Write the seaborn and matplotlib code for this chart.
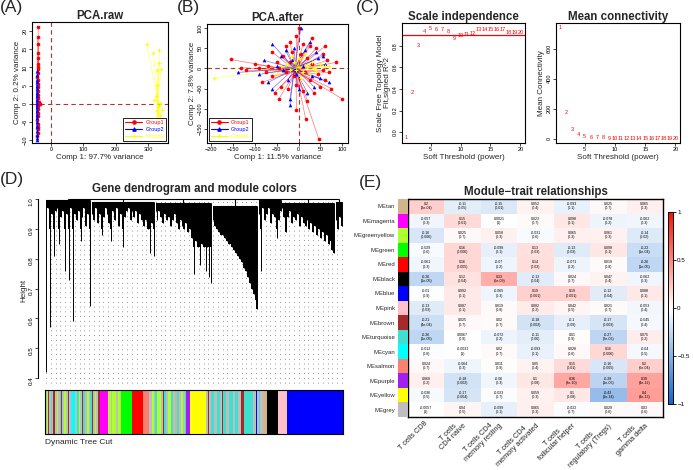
import numpy as np
import pandas as pd
import matplotlib
matplotlib.use("Agg")
import matplotlib.pyplot as plt
import seaborn as sns
from matplotlib.colors import LinearSegmentedColormap
from matplotlib.lines import Line2D

sns.set_theme(style="white")
plt.rcParams["font.family"] = ["Liberation Sans", "DejaVu Sans"]

# ---------------- data ----------------
# (A) PCA before batch correction
raw_g1_x = [-40, -41, -40, -40, -41, -40, -39, -41, -40, -42, -39, -40, -41, -40, -39, -41, -38, -33, -40, -41, -39, -40, -42, -40, -39, -41, -40, -42]
raw_g1_y = [21, 18.5, 16.5, 14, 12.5, 11, 10, 9.5, 8.5, 7.5, 6.5, 5.5, 4.5, 3.5, 2.5, 1.5, 0.5, 0, -0.5, -1.5, -2.5, -3.5, -4.5, -5.5, -6.5, -7, -8, -9]
raw_g2_x = [-44, -43, -45, -43, -44, -42, -45, -43, -44, -42, -45, -43, -44, -42, -45, -43, -44, -42, -44, -43, -42]
raw_g2_y = [9, 8, 6.5, 6, 5, 4, 3, 2, 1, 0, -1, -2, -3, -4, -5, -6, -6.5, -7.5, -8.5, -9.5, -10]
raw_g3_x = [296, 317, 335, 335, 341, 329, 329, 325, 319, 343, 333, 337, 328, 336, 330, 334, 327, 338, 331, 335, 329, 337]
raw_g3_y = [16.5, 14, 14.7, 11.3, 9.6, 9.4, 5.1, 2, 1, -1.6, -0.5, 0.3, -2, -3, -4, -5, -5.5, -6, -7, -7.5, -8.5, -8.7]

# (B) PCA after batch correction
aft_g1_x = [-156, -133, -85, -55, -5, 46, 100, 85, 0, -20, -30, 10, 25, 40, 55, 65, 70, 60, 50, 35, 20, 10, -5, -25, -40,
            -60, -70, -50, -35, -15, 5, 20, 30, 45, 25, -10, -30, -45, -20, 15, 55, -75, -90, -100, -120, 16, -45, 75,
            30, -5, 60, -60]
aft_g1_y = [22, 2, -35, -60, -102, -175, -76, 15, 100, 65, 55, 60, 55, 50, 35, 20, -10, -30, -45, -60, -80, -55, -40, -50,
            -45, -20, 5, 15, 30, 40, 35, 25, 10, -15, -30, -20, -10, 0, 15, -10, -5, -10, 0, 10, -5, -125, -75, -50, 75,
            80, 55, 40]
aft_g2_x = [-140, -60, -60, -20, 5, -90, -80, -40, -25, -10, 15, 30, 45, 60, 70, 20, -5, -35, -50, -15, 10, 35, 50, -70,
            0, 25, -30, 40, 55, -20]
aft_g2_y = [-10, 60, -50, -75, 100, -15, 20, 30, -30, 50, 45, -20, 25, 10, -35, -60, -15, -5, 5, 20, 5, -45, -25, -35,
            -50, 65, 45, 40, 30, -90]
aft_g3_x = [-195, -50, -30, -20, -10, 0, 10, 20, 30, 40, 60, 70, -15, 5, 15, -40, 25, -5, 35, 50]
aft_g3_y = [-25, -15, 10, -5, 15, 25, -10, 5, 15, -5, 5, 5, 30, -25, 35, 5, -15, -5, 0, 10]

# (C) soft threshold
powers = list(range(1, 21))
sft_r2 = [-0.05, 0.37, 0.80, 0.93, 0.96, 0.95, 0.95, 0.93, 0.87, 0.89, 0.90, 0.91, 0.95, 0.95, 0.95, 0.95, 0.95,
          0.92, 0.92, 0.92]
mean_k = [738, 178, 62, 29, 17, 11, 7.5, 5.5, 4.2, 3.3, 2.7, 2.3, 2.0, 1.7, 1.5, 1.4, 1.3, 1.2, 1.1, 1.0]

# (D) dendrogram: (merge height, dense-body floor, leaf heights) per cluster
dendro_clusters = [
    (0.995, 0.90, [0.42, 0.97, 0.57, 0.95, 0.81, 0.96, 0.97, 0.85, 0.94, 0.96, 0.76, 0.95, 0.73, 0.97, 0.59, 0.95,
                   0.93, 0.96, 0.86, 0.94, 0.97, 0.91, 0.95, 0.64]),
    (0.99, 0.90, [0.95, 0.93, 0.97, 0.92, 0.95, 0.88, 0.94, 0.97, 0.95, 0.92, 0.86, 0.96, 0.93, 0.97, 0.91, 0.95,
                  0.84, 0.94, 0.96, 0.97, 0.93, 0.96, 0.94, 0.96, 0.92, 0.95, 0.93, 0.91, 0.93, 0.90, 0.82, 0.92,
                  0.81]),
    (0.985, 0.84, [0.96, 0.93, 0.96, 0.94, 0.92, 0.95, 0.93, 0.94, 0.91, 0.93, 0.95, 0.92, 0.90, 0.93, 0.91, 0.90,
                   0.92, 0.89, 0.90, 0.87, 0.75, 0.86, 0.84, 0.78, 0.85, 0.84, 0.76, 0.84, 0.74, 0.72]),
    (0.975, 0.0, [0.93, 0.91, 0.90, 0.89, 0.88, 0.88, 0.87, 0.86, 0.85, 0.85, 0.84, 0.83, 0.82, 0.81, 0.80, 0.79,
                  0.77, 0.76, 0.74, 0.72, 0.70, 0.68, 0.66, 0.63]),
    (0.995, 0.90, [0.95, 0.76, 0.97, 0.93, 0.95, 0.97, 0.92, 0.95, 0.94, 0.87, 0.93, 0.96]),
    (0.985, 0.0, [0.97, 0.94, 0.89, 0.94, 0.96, 0.92, 0.94, 0.93, 0.95, 0.91, 0.94, 0.92, 0.91, 0.93, 0.90, 0.92,
                  0.89, 0.91, 0.88, 0.90, 0.87, 0.89, 0.86, 0.88, 0.85, 0.86, 0.83, 0.82]),
    (0.99, 0.0, [0.93, 0.90, 0.94, 0.91]),
]
strip_modules = ["grey", "greenyellow", "brown", "grey", "turquoise", "grey", "brown", "grey", "greenyellow", "grey",
                 "turquoise", "brown", "grey", "greenyellow", "grey", "brown", "grey", "cyan",
                 "grey", "turquoise", "greenyellow", "grey", "brown", "turquoise", "grey", "greenyellow", "grey",
                 "turquoise", "brown", "grey", "greenyellow", "grey", "brown", "magenta",
                 "greenyellow", "grey", "greenyellow", "grey", "greenyellow", "green", "red", "salmon",
                 "grey", "greenyellow", "grey", "turquoise", "greenyellow", "grey", "brown", "turquoise", "grey",
                 "greenyellow", "turquoise", "grey", "tan", "turquoise", "grey", "greenyellow", "grey", "turquoise",
                 "purple", "yellow", "grey", "brown", "grey",
                 "turquoise", "grey", "turquoise", "grey", "brown", "turquoise", "grey", "turquoise", "grey",
                 "turquoise", "grey", "brown", "turquoise", "grey", "blue", "grey", "turquoise", "grey",
                 "tan", "black", "pink", "blue"]
strip_sizes = [6, 4, 3, 5, 3, 4, 6, 4, 5, 4, 4, 3, 6, 5, 8, 3, 5, 12,
               6, 5, 4, 5, 4, 6, 5, 6, 4, 5, 3, 5, 5, 4, 6, 24,
               10, 4, 12, 6, 8, 34, 32, 17,
               8, 6, 5, 6, 10, 6, 3, 8, 6, 8, 7, 6, 4, 8, 6, 6, 5, 3,
               11, 49, 5, 4, 6,
               8, 8, 10, 6, 3, 9, 8, 12, 7, 10, 7, 10, 28, 6, 4, 5, 5, 7,
               12, 33, 27, 168]

# (E) module-trait relationships
modules = ["MEtan", "MEmagenta", "MEgreenyellow", "MEgreen", "MEred", "MEblack", "MEblue", "MEpink", "MEbrown",
           "MEturquoise", "MEcyan", "MEsalmon", "MEpurple", "MEyellow", "MEgrey"]
traits = ["T cells CD8", "T cells\nCD4 naive", "T cells CD4\nmemory resting", "T cells CD4\nmemory activated",
          "T cells\nfollicular helper", "T cells\nregulatory (Tregs)", "T cells\ngamma delta"]
cor = [
    [0.2, -0.11, -0.15, 0.052, -0.093, 0.025, 0.065],
    [-0.057, 0.15, 0.0021, 0.023, 0.098, -0.078, -0.062],
    [-0.16, 0.025, 0.058, -0.031, 0.065, 0.061, -0.14],
    [-0.029, 0.16, -0.098, 0.13, -0.13, 0.098, -0.22],
    [-0.061, 0.16, -0.07, 0.14, -0.071, 0.019, -0.26],
    [-0.26, 0.12, 0.33, -0.12, 0.024, 0.047, -0.062],
    [-0.01, 0.092, -0.065, 0.19, 0.19, -0.12, 0.088],
    [-0.13, 0.087, 0.019, 0.082, 0.042, 0.021, -0.053],
    [-0.21, 0.025, 0.02, -0.18, -0.1, -0.17, -0.045],
    [-0.26, 0.0067, -0.072, -0.11, 0.01, -0.27, 0.075],
    [-0.012, -0.0031, 0.02, -0.093, 0.028, 0.16, -0.04],
    [0.024, -0.064, 0.011, 0.05, 0.15, -0.16, 0.2],
    [0.068, -0.18, -0.06, 0.1, 0.36, -0.28, 0.39],
    [-0.036, -0.17, -0.023, 0.059, 0.1, -0.43, 0.4],
    [-0.0057, 0.04, -0.099, 0.065, -0.022, 0.029, 0.03],
]
pvals = [
    ["3e-04", "0.05", "0.01", "0.4", "0.1", "0.7", "0.3"],
    ["0.3", "0.01", "1", "0.7", "0.1", "0.2", "0.3"],
    ["0.006", "0.7", "0.3", "0.6", "0.3", "0.3", "0.02"],
    ["0.6", "0.006", "0.1", "0.03", "0.03", "0.1", "1e-04"],
    ["0.3", "0.005", "0.2", "0.02", "0.2", "0.8", "1e-05"],
    ["1e-05", "0.04", "6e-09", "0.04", "0.7", "0.4", "0.3"],
    ["0.9", "0.1", "0.3", "0.001", "0.001", "0.04", "0.1"],
    ["0.03", "0.1", "0.8", "0.2", "0.5", "0.7", "0.4"],
    ["4e-04", "0.7", "0.7", "0.002", "0.09", "0.003", "0.4"],
    ["1e-05", "0.9", "0.2", "0.06", "0.9", "2e-06", "0.2"],
    ["0.8", "1", "0.7", "0.1", "0.6", "0.006", "0.5"],
    ["0.7", "0.3", "0.9", "0.4", "0.01", "0.005", "6e-04"],
    ["0.2", "0.002", "0.3", "0.08", "8e-10", "1e-06", "4e-12"],
    ["0.5", "0.004", "0.7", "0.3", "0.08", "1e-14", "4e-13"],
    ["1", "0.5", "0.1", "0.3", "0.7", "0.6", "0.6"],
]

# R colour names used by WGCNA
r_col = {"grey": "#BEBEBE", "turquoise": "#40E0D0", "blue": "#0000FF", "brown": "#A52A2A", "yellow": "#FFFF00",
         "green": "#00FF00", "red": "#FF0000", "black": "#000000", "pink": "#FFC0CB", "magenta": "#FF00FF",
         "purple": "#A020F0", "greenyellow": "#ADFF2F", "tan": "#D2B48C", "salmon": "#FA8072", "cyan": "#00FFFF"}

# ---------------- figure ----------------
W, H = 693, 470
fig = plt.figure(figsize=(W / 100, H / 100), dpi=100)


def box(l, t, r, b):
    return fig.add_axes([l / W, 1 - b / H, (r - l) / W, (b - t) / H])


def r_axes(ax, ls=4):
    for s in ax.spines.values():
        s.set_color("black")
        s.set_linewidth(0.8)
    ax.tick_params(axis="both", direction="out", length=2, width=0.5, labelsize=ls, pad=1,
                   colors="black", bottom=True, left=True)
    ax.tick_params(axis="y", labelrotation=90)
    for lab in ax.get_yticklabels():
        lab.set_va("center")


def pca_panel(ax, groups, xlim, ylim, xt, yt, xlab, ylab, title, legend_loc):
    for xs, ys, col, mk in groups:
        cx, cy = np.mean(xs), np.mean(ys)
        for x, y in zip(xs, ys):
            ax.plot([cx, x], [cy, y], color=col, lw=0.5, alpha=0.55, zorder=1)
        if mk == "+":
            sns.scatterplot(x=xs, y=ys, color=col, marker=mk, s=10, linewidth=0.7, ax=ax, zorder=2)
        else:
            sns.scatterplot(x=xs, y=ys, color=col, marker=mk, s=7, linewidth=0, ax=ax, zorder=2)
    ax.axvline(0, color="#B5332E", ls=(0, (4, 3)), lw=0.8, zorder=0)
    ax.axhline(0, color="#B5332E", ls=(0, (4, 3)), lw=0.8, zorder=0)
    ax.set_xlim(*xlim)
    ax.set_ylim(*ylim)
    ax.set_xticks(xt)
    ax.set_yticks(yt)
    r_axes(ax)
    ax.set_xlabel(xlab, fontsize=5.8, labelpad=1)
    ax.set_ylabel(ylab, fontsize=5.8, labelpad=1)
    ax.set_title(title, fontsize=8.3, fontweight="bold", pad=2)
    handles = [Line2D([0], [0], color=c, marker=m, markersize=2.5, lw=0.8, markeredgewidth=0.8)
               for _, _, c, m in groups]
    leg = ax.legend(handles, ["Group1", "Group2", "Group3"], loc=legend_loc, fontsize=4, labelcolor="linecolor",
                    frameon=True, fancybox=False, edgecolor="black", framealpha=1, borderpad=0.4,
                    handlelength=3, handletextpad=0.6, labelspacing=0.35, borderaxespad=0.3)
    leg.get_frame().set_linewidth(0.6)


ax_a = box(32, 22, 168, 143)
pca_panel(ax_a, [(raw_g1_x, raw_g1_y, "red", "o"), (raw_g2_x, raw_g2_y, "blue", "^"),
                 (raw_g3_x, raw_g3_y, "yellow", "+")],
          (-59, 362), (-10.8, 22.5), [0, 100, 200, 300], [-10, -5, 0, 5, 10, 15, 20],
          "Comp 1: 97.7% variance", "Comp 2: 0.2% variance", "PCA.raw", "lower right")

ax_b = box(207, 24, 348, 143)
pca_panel(ax_b, [(aft_g1_x, aft_g1_y, "red", "o"), (aft_g2_x, aft_g2_y, "blue", "^"),
                 (aft_g3_x, aft_g3_y, "yellow", "+")],
          (-210, 113), (-185, 110), [-200, -150, -100, -50, 0, 50, 100], [-150, -100, -50, 0, 50, 100],
          "Comp 1: 11.5% variance", "Comp 2: 7.8% variance", "PCA.after", "lower left")

# (C)
ax_c1 = box(402, 23, 525, 143)
for p, v in zip(powers, sft_r2):
    ax_c1.text(p, v, str(p), color="red", fontsize=4, ha="center", va="center")
ax_c1.axhline(0.9, color="red", lw=0.9)
ax_c1.set_xlim(0.24, 20.76)
ax_c1.set_ylim(-0.1, 1.01)
ax_c1.set_xticks([5, 10, 15, 20])
ax_c1.set_yticks([0, 0.2, 0.4, 0.6, 0.8])
ax_c1.set_yticklabels(["0.0", "0.2", "0.4", "0.6", "0.8"])
r_axes(ax_c1)
ax_c1.set_xlabel("Soft Threshold (power)", fontsize=5.8, labelpad=1)
ax_c1.set_ylabel("Scale Free Topology Model\nFit,signed R^2", fontsize=5.8, labelpad=1, linespacing=1.0)
ax_c1.set_title("Scale independence", fontsize=8.3, fontweight="bold", pad=2)

ax_c2 = box(556, 23, 680, 143)
for p, v in zip(powers, mean_k):
    ax_c2.text(p, v, str(p), color="red", fontsize=4, ha="center", va="center")
ax_c2.set_xlim(0.24, 20.76)
ax_c2.set_ylim(-28, 770)
ax_c2.set_xticks([5, 10, 15, 20])
ax_c2.set_yticks([0, 200, 400, 600])
r_axes(ax_c2)
ax_c2.set_xlabel("Soft Threshold (power)", fontsize=5.8, labelpad=1)
ax_c2.set_ylabel("Mean Connectivity", fontsize=5.8, labelpad=1)
ax_c2.set_title("Mean connectivity", fontsize=8.3, fontweight="bold", pad=2)

# (D) dendrogram
ax_d = box(45, 196, 343, 384)
n_leaves = sum(len(c[2]) for c in dendro_clusters)
ax_d.vlines(np.linspace(0.004, 0.996, 63), 0.385, 0.995, color="0.45", lw=0.6, ls=(0, (1, 4.7)), zorder=0)
pos, centers, tops = 0, [], []
for top, floor, leaves in dendro_clusters:
    h = np.array(leaves)
    xs = (np.arange(pos, pos + len(h)) + 0.5) / n_leaves
    body = np.maximum(h, floor)
    ax_d.fill_between(xs, body, top, step="mid", color="black", lw=0, zorder=2)
    ax_d.vlines(xs, h, top, color="black", lw=0.7, zorder=2)
    ax_d.hlines(top, xs[0], xs[-1], color="black", lw=0.8, zorder=2)
    centers.append(xs.mean())
    tops.append(top)
    pos += len(h)
ax_d.vlines(centers, tops, 0.999, color="black", lw=0.8, zorder=2)
ax_d.hlines(0.999, centers[0], centers[-1], color="black", lw=0.8, zorder=2)
ax_d.set_xlim(0, 1)
ax_d.set_ylim(0.38, 1.01)
ax_d.set_xticks([])
ax_d.set_yticks([0.4, 0.5, 0.6, 0.7, 0.8, 0.9, 1.0])
for side in ["top", "right", "bottom"]:
    ax_d.spines[side].set_visible(False)
r_axes(ax_d, ls=4.5)
ax_d.spines["left"].set_bounds(0.4, 1.0)
ax_d.spines["left"].set_position(("outward", 5))
ax_d.set_ylabel("Height", fontsize=5.8, labelpad=1)
ax_d.set_title("Gene dendrogram and module colors", fontsize=8.3, fontweight="bold", pad=3)

ax_s = box(45, 390, 343, 434)
sizes = np.array(strip_sizes, dtype=float)
lefts = np.concatenate([[0], np.cumsum(sizes)[:-1]]) / sizes.sum()
ax_s.bar(lefts, 1, width=sizes / sizes.sum(), align="edge", color=[r_col[m] for m in strip_modules], linewidth=0)
ax_s.set_xlim(0, 1)
ax_s.set_ylim(0, 1)
ax_s.set_xticks([])
ax_s.set_yticks([])
for s in ax_s.spines.values():
    s.set_color("black")
    s.set_linewidth(0.8)
ax_s.text(0, -0.12, "Dynamic Tree Cut", transform=ax_s.transAxes, fontsize=6, ha="left", va="top")

# (E) module-trait heatmap
cmap = LinearSegmentedColormap.from_list("bwr_wgcna", ["#0D66CC", "#FFFFFF", "#FF0D00"])
df_cor = pd.DataFrame(cor, index=modules, columns=traits)
annot = [[f"{c:.2g}\n({p})" for c, p in zip(rc, rp)] for rc, rp in zip(cor, pvals)]
ax_e = box(408, 199, 663, 417)
cax = box(668, 212, 673, 404)
sns.heatmap(df_cor, ax=ax_e, cmap=cmap, vmin=-1, vmax=1, annot=np.array(annot), fmt="",
            annot_kws={"fontsize": 2.6, "color": "black", "linespacing": 1.1}, cbar_ax=cax,
            xticklabels=traits, yticklabels=False)
for s in ax_e.spines.values():
    s.set_visible(True)
    s.set_color("black")
    s.set_linewidth(1.0)
ax_e.tick_params(axis="x", length=0, pad=4, labelsize=5.3)
ax_e.set_xticklabels(traits, rotation=45, ha="right", va="center", rotation_mode="anchor",
                     multialignment="center", linespacing=1.05)
ax_e.set_title("Module\u2212trait relationships", fontsize=8.3, fontweight="bold", pad=3)

cax.set_yticks([-1, -0.5, 0, 0.5, 1])
cax.set_yticklabels(["\u22121", "\u22120.5", "0", "0.5", "1"])
cax.tick_params(axis="y", length=2, width=0.6, labelsize=4.5, pad=1, right=True, colors="black")
for s in cax.spines.values():
    s.set_visible(True)
    s.set_color("black")
    s.set_linewidth(0.6)

ax_m = box(398, 199, 408, 417)
ax_m.barh(np.arange(len(modules)) + 0.5, 1, height=1, color=[r_col[m[2:]] for m in modules], linewidth=0)
ax_m.set_ylim(len(modules), 0)
ax_m.set_xlim(0, 1)
ax_m.set_xticks([])
ax_m.set_yticks(np.arange(len(modules)) + 0.5)
ax_m.set_yticklabels(modules, fontsize=4.3)
ax_m.tick_params(axis="y", length=0, pad=2)
for s in ax_m.spines.values():
    s.set_visible(False)

# panel letters
for lab, x, y in [("(A)", 0, 0), ("(B)", 177, 0), ("(C)", 356, 0), ("(D)", 0, 172), ("(E)", 359, 175)]:
    fig.text(x / W, 1 - y / H, lab, fontsize=12.5, ha="left", va="top")

fig.savefig("out.png", dpi=100)
